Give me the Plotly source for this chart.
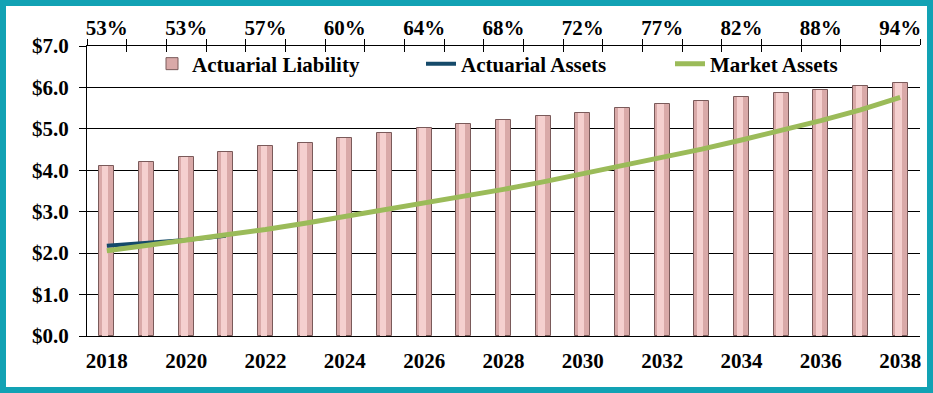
import plotly.graph_objects as go

years = list(range(2018, 2039))
liability = [4.10, 4.21, 4.33, 4.45, 4.58, 4.67, 4.78, 4.90, 5.01, 5.11, 5.21,
             5.30, 5.39, 5.50, 5.59, 5.67, 5.76, 5.86, 5.94, 6.03, 6.11]
actuarial_years = [2018, 2019, 2020, 2021]
actuarial_assets = [2.18, 2.25, 2.32, 2.42]
market_assets = [2.06, 2.18, 2.30, 2.42, 2.57, 2.72, 2.88, 3.04, 3.20, 3.37, 3.54,
                 3.72, 3.91, 4.10, 4.30, 4.51, 4.73, 4.96, 5.20, 5.46, 5.76]
label_years = years[::2]
year_labels = [str(y) for y in label_years]
funded_labels = ["53%", "53%", "57%", "60%", "64%", "68%", "72%", "77%", "82%", "88%", "94%"]
boundaries = [y - 0.5 for y in years] + [years[-1] + 0.5]

FONT = "Liberation Serif"
fnt = dict(family=FONT, size=21, color="black", weight="bold")
xr = [years[0] - 0.5, years[-1] + 0.5]

fig = go.Figure()
fig.add_trace(go.Bar(x=years, y=liability, width=0.38, name="Actuarial Liability",
                     marker=dict(color="#D9A9A8", line=dict(color="#7A5A5A", width=1)),
                     legend="legend", xaxis="x"))
fig.add_trace(go.Bar(x=years, y=liability, width=0.16, offset=-0.12, showlegend=False,
                     hoverinfo="skip", xaxis="x2",
                     marker=dict(color="#F5D0CF", line=dict(width=0))))
fig.add_trace(go.Scatter(x=actuarial_years, y=actuarial_assets, mode="lines",
                         name="Actuarial Assets", line=dict(color="#154A6A", width=4),
                         legend="legend2", xaxis="x3"))
fig.add_trace(go.Scatter(x=years, y=market_assets, mode="lines",
                         name="Market Assets", line=dict(color="#9BBB59", width=5),
                         legend="legend3", xaxis="x4"))

ly = (336 - 64) / 290
fig.update_layout(
    width=933, height=393,
    margin=dict(l=87, r=13, t=46, b=57),
    paper_bgcolor="white", plot_bgcolor="white",
    barmode="overlay", bargap=0,
    font=fnt,
    xaxis=dict(range=xr, tickvals=label_years, ticktext=year_labels, ticks="",
               showline=True, linecolor="black", linewidth=1, showgrid=False,
               zeroline=False, tickfont=fnt, ticklabelstandoff=6),
    xaxis2=dict(overlaying="x", side="top", anchor="y", range=xr, tickvals=label_years,
                ticktext=funded_labels, ticks="", showline=True, linecolor="black",
                showgrid=False, zeroline=False, tickfont=fnt, ticklabelstandoff=2),
    xaxis3=dict(overlaying="x", side="top", anchor="y", range=xr, tickvals=boundaries,
                ticks="outside", ticklen=6, tickcolor="black", showticklabels=False,
                showline=False, showgrid=False, zeroline=False),
    xaxis4=dict(overlaying="x", side="top", anchor="y", range=xr, tickvals=boundaries,
                ticks="inside", ticklen=6, tickcolor="black", showticklabels=False,
                showline=False, showgrid=False, zeroline=False),
    yaxis=dict(range=[0, 7], dtick=1, tick0=0, tickprefix="$", tickformat=".1f",
               showgrid=True, gridcolor="black", gridwidth=1, showline=True,
               linecolor="black", ticks="outside", ticklen=7, tickcolor="black",
               zeroline=False, tickfont=fnt, ticklabelstandoff=6),
    legend=dict(x=(152 - 87) / 833, y=ly, xanchor="left", yanchor="middle",
                bgcolor="rgba(0,0,0,0)", font=fnt),
    legend2=dict(x=(421 - 87) / 833, y=ly, xanchor="left", yanchor="middle",
                 bgcolor="rgba(0,0,0,0)", font=fnt),
    legend3=dict(x=(670 - 87) / 833, y=ly, xanchor="left", yanchor="middle",
                 bgcolor="rgba(0,0,0,0)", font=fnt),
    shapes=[dict(type="rect", xref="paper", yref="paper",
                 x0=(3 - 87) / 833, x1=(930 - 87) / 833,
                 y0=(336 - 390) / 290, y1=(336 - 3) / 290,
                 line=dict(color="#12A2B4", width=6), fillcolor="rgba(0,0,0,0)")],
)

fig.write_html("out.html", config={"displayModeBar": False},
               post_script="document.body.style.margin='0px';")
